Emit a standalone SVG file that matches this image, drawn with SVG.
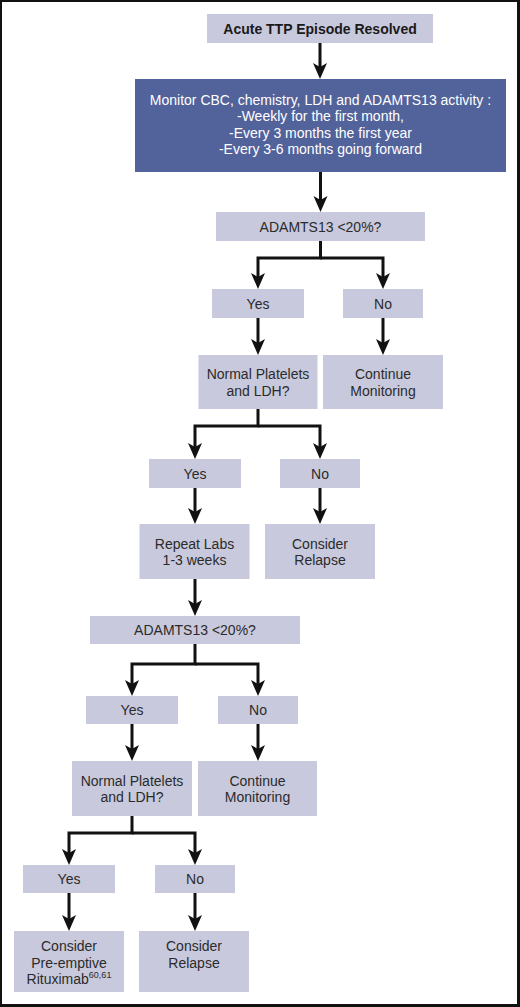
<svg xmlns="http://www.w3.org/2000/svg" width="520" height="1007" viewBox="0 0 520 1007">
<style>
.box{fill:#c8c9dc;}
.dark{fill:#52629a;}
.t{font-family:"Liberation Sans",Arial,sans-serif;font-size:14px;fill:#2b2b2b;text-anchor:middle;}
.w{fill:#ffffff;}
.b{font-weight:bold;fill:#1a1a1a;}
.c{fill:none;stroke:#111111;stroke-width:3;stroke-linejoin:miter;}
</style>
<defs>
<marker id="ah" markerUnits="userSpaceOnUse" markerWidth="18" markerHeight="16" viewBox="0 -8 18 16" refX="8" refY="0" orient="auto">
<path d="M0,-7 L16,0 L0,7 L4,0 Z" fill="#111111"/>
</marker>
</defs>
<rect x="0" y="0" width="520" height="1007" fill="#111111"/>
<rect x="2" y="2" width="515" height="1002" fill="#ffffff"/>

<g id="connectors">
<path class="c" marker-end="url(#ah)" d="M320,43 V71"/>
<path class="c" marker-end="url(#ah)" d="M320.5,172 V204"/>
<path class="c" marker-end="url(#ah)" d="M320.5,241 V258 H258 V281"/>
<path class="c" marker-end="url(#ah)" d="M320.5,258 H383 V281"/>
<path class="c" marker-end="url(#ah)" d="M258,318 V347"/>
<path class="c" marker-end="url(#ah)" d="M383,318 V347"/>
<path class="c" marker-end="url(#ah)" d="M258,409 V426 H195 V451"/>
<path class="c" marker-end="url(#ah)" d="M258,426 H320 V451"/>
<path class="c" marker-end="url(#ah)" d="M195,488 V516"/>
<path class="c" marker-end="url(#ah)" d="M320,488 V516"/>
<path class="c" marker-end="url(#ah)" d="M195,579 V608"/>
<path class="c" marker-end="url(#ah)" d="M195,644 V664 H132 V688"/>
<path class="c" marker-end="url(#ah)" d="M195,664 H258 V688"/>
<path class="c" marker-end="url(#ah)" d="M132,724 V753"/>
<path class="c" marker-end="url(#ah)" d="M258,724 V753"/>
<path class="c" marker-end="url(#ah)" d="M132,816 V833 H69 V857"/>
<path class="c" marker-end="url(#ah)" d="M132,833 H195 V857"/>
<path class="c" marker-end="url(#ah)" d="M69,893 V923"/>
<path class="c" marker-end="url(#ah)" d="M195,893 V923"/>
</g>

<g id="n1"><rect class="box" x="207" y="14" width="226" height="29"/><text class="t b" x="320" y="33.5">Acute TTP Episode Resolved</text></g>
<g id="n2"><rect class="dark" x="135" y="79" width="371" height="93"/>
<text class="t w" x="320.5" y="104.5">Monitor CBC, chemistry, LDH and ADAMTS13 activity :</text>
<text class="t w" x="320.5" y="121">-Weekly for the first month,</text>
<text class="t w" x="320.5" y="137.5">-Every 3 months the first year</text>
<text class="t w" x="320.5" y="154">-Every 3-6 months going forward</text></g>
<g id="n3"><rect class="box" x="216" y="212" width="209" height="29"/><text class="t" x="320.5" y="231.5">ADAMTS13 &lt;20%?</text></g>
<g id="n4"><rect class="box" x="212" y="289" width="92" height="29"/><text class="t" x="258" y="308.5">Yes</text></g>
<g id="n5"><rect class="box" x="343" y="289" width="80" height="29"/><text class="t" x="383" y="308.5">No</text></g>
<g id="n6"><rect class="box" x="198.5" y="355" width="119" height="54"/><text class="t" x="258" y="379">Normal Platelets</text><text class="t" x="258" y="395.5">and LDH?</text></g>
<g id="n7"><rect class="box" x="323" y="355" width="120" height="54"/><text class="t" x="383" y="379">Continue</text><text class="t" x="383" y="395.5">Monitoring</text></g>
<g id="n8"><rect class="box" x="149" y="459" width="92" height="29"/><text class="t" x="195" y="478.5">Yes</text></g>
<g id="n9"><rect class="box" x="280" y="459" width="80" height="29"/><text class="t" x="320" y="478.5">No</text></g>
<g id="n10"><rect class="box" x="139.5" y="524" width="110" height="55"/><text class="t" x="194.5" y="548.5">Repeat Labs</text><text class="t" x="194.5" y="565">1-3 weeks</text></g>
<g id="n11"><rect class="box" x="265" y="524" width="110" height="55"/><text class="t" x="320" y="548.5">Consider</text><text class="t" x="320" y="565">Relapse</text></g>
<g id="n12"><rect class="box" x="90" y="616" width="210" height="28"/><text class="t" x="195" y="635">ADAMTS13 &lt;20%?</text></g>
<g id="n13"><rect class="box" x="86" y="696" width="92" height="28"/><text class="t" x="132" y="715">Yes</text></g>
<g id="n14"><rect class="box" x="218" y="696" width="80" height="28"/><text class="t" x="258" y="715">No</text></g>
<g id="n15"><rect class="box" x="72" y="761" width="120" height="55"/><text class="t" x="132" y="785.5">Normal Platelets</text><text class="t" x="132" y="802">and LDH?</text></g>
<g id="n16"><rect class="box" x="198" y="761" width="119" height="55"/><text class="t" x="257.5" y="785.5">Continue</text><text class="t" x="257.5" y="802">Monitoring</text></g>
<g id="n17"><rect class="box" x="23" y="865" width="92" height="28"/><text class="t" x="69" y="884">Yes</text></g>
<g id="n18"><rect class="box" x="155" y="865" width="80" height="28"/><text class="t" x="195" y="884">No</text></g>
<g id="n19"><rect class="box" x="14" y="931" width="110" height="61"/><text class="t" x="69" y="951">Consider</text><text class="t" x="69" y="967.5">Pre-emptive</text><text class="t" x="69" y="984">Rituximab<tspan font-size="9" dy="-6">60,61</tspan></text></g>
<g id="n20"><rect class="box" x="139" y="931" width="110" height="61"/><text class="t" x="194" y="951">Consider</text><text class="t" x="194" y="967.5">Relapse</text></g>
</svg>
